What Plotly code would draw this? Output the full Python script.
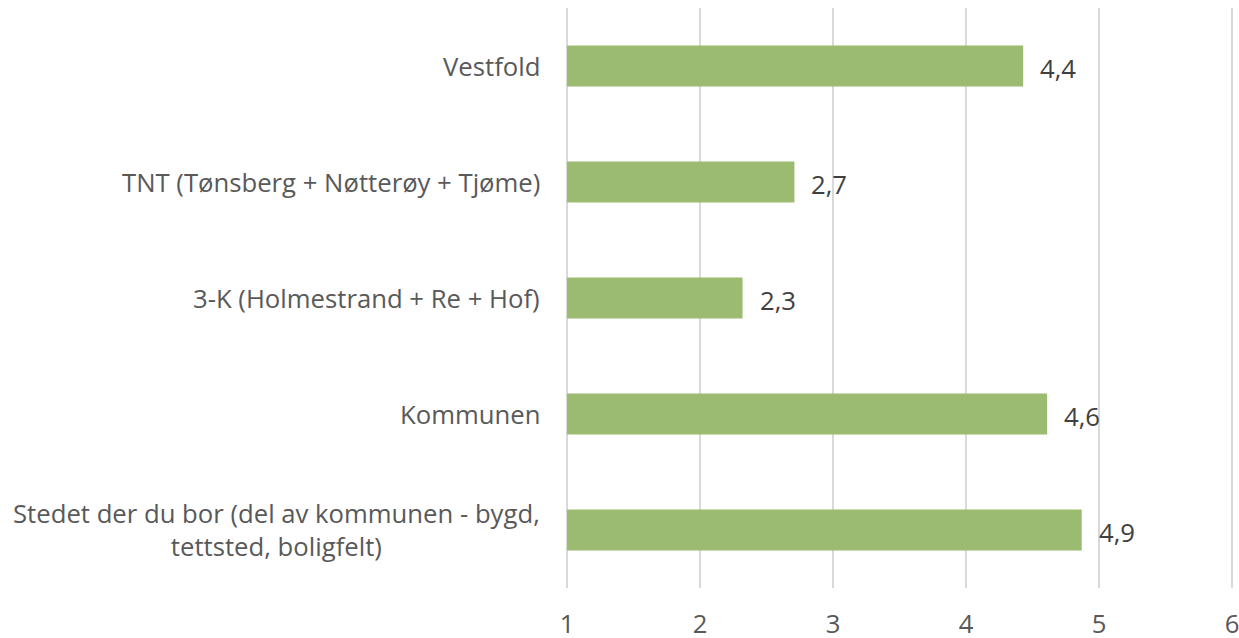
import plotly.graph_objects as go

categories = [
    "Vestfold",
    "TNT (Tønsberg + Nøtterøy + Tjøme)",
    "3-K (Holmestrand + Re + Hof)",
    "Kommunen",
    "Stedet der du bor (del av kommunen - bygd,<br>tettsted, boligfelt)",
]
values = [4.43, 2.71, 2.32, 4.61, 4.87]
x_ticks = [1, 2, 3, 4, 5, 6]

labels = [f"{v:.1f}".replace(".", ",") for v in values]
base = 1

FONT = "Open Sans"
BAR = "#9BBB71"
TXT = "#595959"
FS = 25.7

fig = go.Figure()
fig.add_trace(go.Bar(
    y=categories,
    x=[v - base for v in values],
    base=base,
    orientation="h",
    marker=dict(color=BAR, line=dict(width=0)),
    hoverinfo="skip",
))

annotations = []
for c, v, lab in zip(categories, values, labels):
    annotations.append(dict(
        x=v, y=c, xref="x", yref="y", text=lab, showarrow=False,
        xanchor="left", yanchor="middle", xshift=15, yshift=-2,
        font=dict(family=FONT, size=FS, color="#404040"),
    ))
    annotations.append(dict(
        x=0, y=c, xref="paper", yref="y", text=c, showarrow=False,
        xanchor="right", yanchor="middle", xshift=-23, align="center",
        font=dict(family=FONT, size=FS, color=TXT),
    ))

fig.update_layout(
    width=1239, height=638,
    margin=dict(l=565, r=5, t=8, b=50),
    paper_bgcolor="white", plot_bgcolor="white",
    showlegend=False,
    bargap=0.647,
    annotations=annotations,
    xaxis=dict(
        range=[0.985, 6.015], tickvals=x_ticks, ticktext=[str(t) for t in x_ticks],
        showgrid=True, gridcolor="#D9D9D9", gridwidth=1.5,
        zeroline=False, showline=False, automargin=False,
        ticks="outside", ticklen=13, tickcolor="rgba(0,0,0,0)",
        ticklabeloverflow="allow",
        tickfont=dict(family=FONT, size=FS, color=TXT),
    ),
    yaxis=dict(
        categoryorder="array", categoryarray=categories[::-1],
        showticklabels=False, showgrid=False, zeroline=False, showline=False,
        automargin=False,
    ),
)

fig.write_html(
    "out.html",
    config={"displayModeBar": False},
    post_script="document.body.style.margin='0';document.body.style.overflow='hidden';",
)
